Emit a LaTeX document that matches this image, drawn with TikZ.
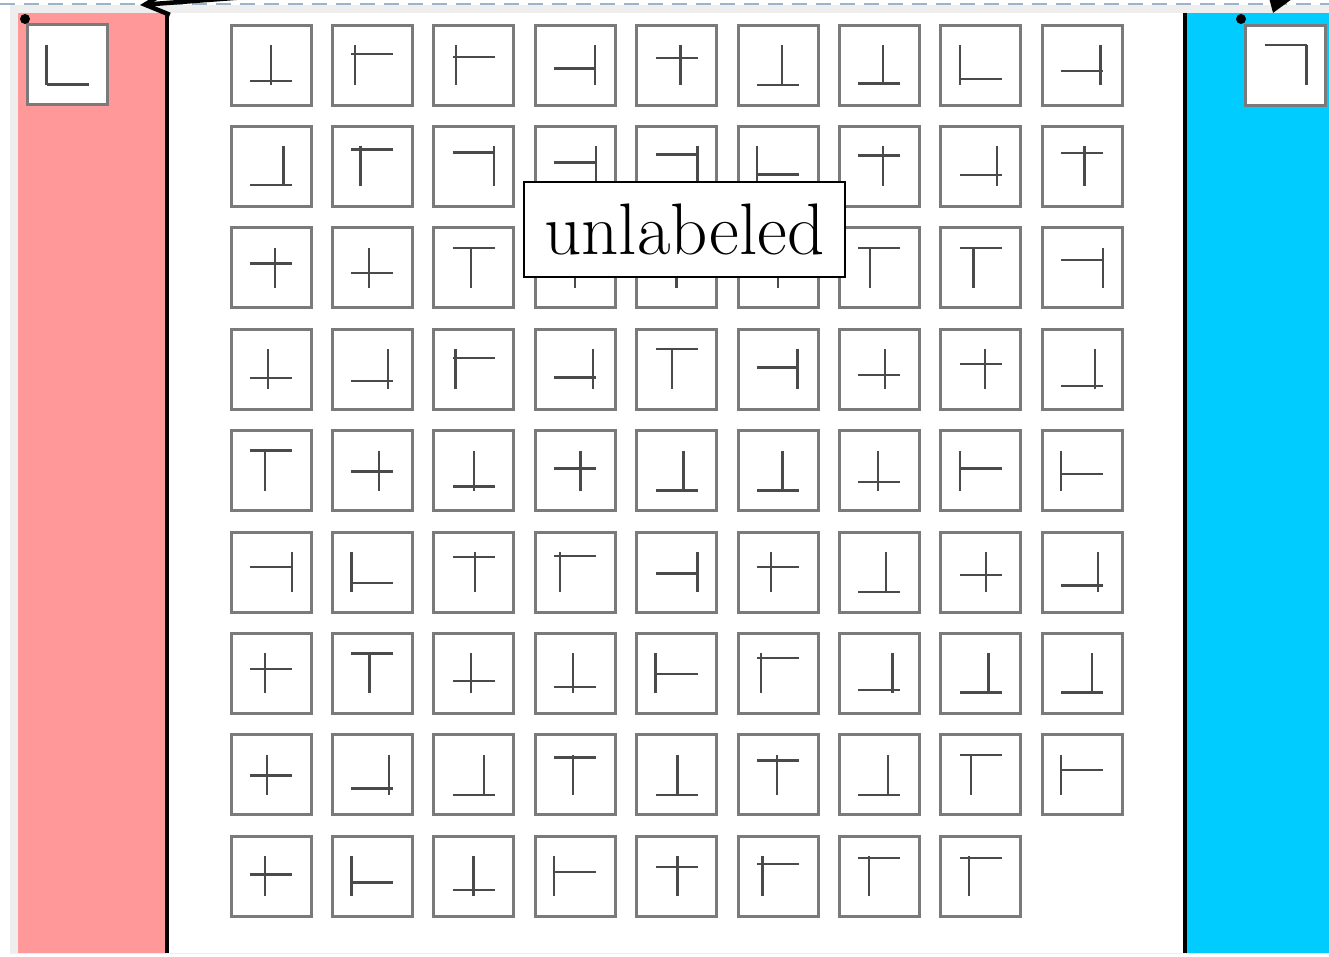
\documentclass[tikz,border=0pt]{standalone}
\usetikzlibrary{positioning, arrows.meta, calc}
\definecolor{rosado}{HTML}{FF9999}
\definecolor{celeste}{HTML}{00CCFF}
\definecolor{fondo}{HTML}{EEEEEE}
\definecolor{guia}{HTML}{9DB3C9}
\definecolor{borde}{HTML}{7A7A7A}
\definecolor{trazo}{HTML}{4A4A4A}
\tikzset{
  casilla/.style={draw=borde, line width=3pt, fill=white, minimum size=80pt, inner sep=0pt},
  trazo glifo/.style={draw=trazo, line width=2.4pt},
  punto/.style={circle, fill=black, inner sep=0pt, minimum size=10pt},
  etiqueta/.style={draw=black, line width=2.4pt, fill=white, inner sep=0pt,
    minimum width=321pt, minimum height=95pt, font=\fontsize{73}{78}\selectfont},
}
% glifo dentro de una casilla: #2 = posicion del trazo vertical, #3 = altura del horizontal
\newcommand{\glifo}[3]{%
  \pgfmathsetmacro\hy{20-40*#3}%
  \pgfmathsetmacro\vx{-21+42*#2}%
  \draw[trazo glifo] ($(#1.center)+(-21,\hy)$) -- ($(#1.center)+(21,\hy)$)
    ($(#1.center)+(\vx,-20)$) -- ($(#1.center)+(\vx,20)$);}

\begin{document}
\begin{tikzpicture}[x=1pt, y=-1pt]
  \useasboundingbox (0,0) rectangle (1329,956);
  \fill[white] (0,0) rectangle (1329,956);
  \fill[fondo] (10,5) rectangle (1329,954);
  % paneles
  \fill[rosado] (18,13) rectangle (167,953);
  \fill[white] (167,13) rectangle (1185,953);
  \fill[celeste] (1185,13) rectangle (1329,953);
  \draw[black, line width=4pt] (167,13) -- (167,953);
  \draw[black, line width=4pt] (1185,13) -- (1185,953);
  \draw[guia, line width=2.6pt, dash pattern=on 15pt off 9pt] (0,4) -- (1329,4);

  % casillas de los paneles
  \node[casilla] (izq) at (67.5,64.5) {};
  \glifo{izq}{0}{0}
  \node[casilla] (der) at (1285.5,65) {};
  \glifo{der}{1}{1}
  \node[punto] (punto izq) at (25,19) {};
  \node[punto] (punto der) at (1241,19) {};

  % cuadricula central
  \foreach \fila [count=\j from 0] in {
    {0.5/0.1, 0.08/0.77, 0.08/0.7, 0.97/0.41, 0.59/0.67, 0.6/0, 0.59/0.04, 0/0.15, 0.94/0.35},
    {0.8/0.04, 0.22/0.92, 0.98/0.85, 1/0.6, 1/0.8, 0/0.3, 0.58/0.77, 0.88/0.28, 0.55/0.83},
    {0.59/0.61, 0.42/0.37, 0.43/1, 0.5/0.9, 0.5/0.9, 0.5/0.9, 0.28/1, 0.33/1, 1/0.69},
    {0.43/0.28, 0.87/0.21, 0.06/0.78, 0.93/0.29, 0.39/1, 0.96/0.54, 0.63/0.36, 0.6/0.63, 0.8/0.08},
    {0.35/1, 0.66/0.48, 0.5/0.1, 0.63/0.55, 0.66/0, 0.61/0, 0.47/0.22, 0/0.55, 0/0.41},
    {1/0.62, 0/0.22, 0.53/0.87, 0.14/0.9, 1/0.46, 0.33/0.62, 0.66/0, 0.63/0.42, 0.88/0.16},
    {0.36/0.61, 0.43/1, 0.43/0.31, 0.45/0.16, 0/0.49, 0.1/0.88, 0.81/0.09, 0.68/0.02, 0.74/0.02},
    {0.4/0.48, 0.9/0.16, 0.74/0, 0.45/0.93, 0.52/0, 0.48/0.86, 0.7/0, 0.26/1, 0/0.62},
    {0.36/0.54, 0/0.34, 0.49/0.16, 0/0.6, 0.52/0.73, 0.13/0.8, 0.25/0.95, 0.22/0.95}}{
    \foreach \a/\b [count=\i from 0] in \fila {
      \node[casilla] (c-\j-\i) at ({271+101.4*\i},{65+101.4*\j}) {};
      \glifo{c-\j-\i}{\a}{\b}
    }
  }

  \node[etiqueta] (sin etiqueta) at (684.5,229.5) {unlabeled};

  % flechas que llegan desde fuera
  \coordinate (origen izq) at (420,-16);
  \coordinate (destino izq) at (140,5);
  \draw[line width=4.5pt, -{Straight Barb[length=24pt, width=24pt]}] (origen izq) -- (destino izq);
  \coordinate (origen der) at (1295,-50);
  \coordinate (destino der) at (1273,13);
  \draw[line width=4.5pt, -{Triangle[length=20pt, width=26pt]}] (origen der) -- (destino der);
\end{tikzpicture}
\end{document}
